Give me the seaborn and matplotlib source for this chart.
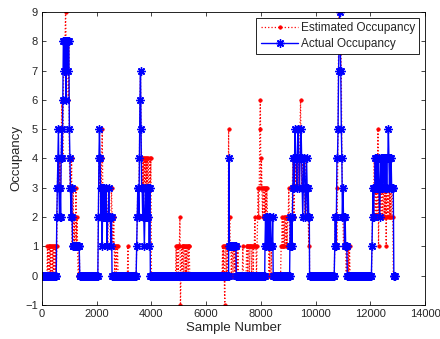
import numpy as np
import pandas as pd
import matplotlib
matplotlib.use("Agg")
import matplotlib.pyplot as plt
import seaborn as sns

STEP = 20  # sample spacing of the plotted points

# actual occupancy: segment edges (sample numbers) and the levels seen in each segment
act_edges = [0, 540, 620, 700, 780, 1000, 1080, 1120, 1380, 2060, 2160, 2300, 2560,
             3460, 3560, 3660, 3960, 6830, 6870, 7100, 8150, 8450, 9060, 9150, 9780,
             10700, 10800, 11000, 11160, 12060, 12160, 12840, 12920]
act_levels = [
    (0,), (2, 3, 4, 5), (3, 2), (4, 5, 4, 6),
    (8, 8, 7, 8, 8, 6, 8, 8, 7, 8, 8), (5, 4, 3, 2), (3, 2), (1,), (0,),
    (2, 4, 5, 4, 3), (2, 3, 1, 3, 2, 2, 3),
    (2, 2, 3, 2, 1, 2, 2, 3, 2, 2, 2, 1, 2), (0,),
    (1, 2, 3, 3, 2), (4, 6, 7, 5, 3),
    (3, 2, 3, 2, 1, 2, 3, 2, 3, 2, 3, 2, 3, 1, 3), (0,),
    (4, 1), (1,), (0,),
    (1, 2, 1, 2, 2, 1, 1, 2, 1, 1, 2, 1, 1, 1, 2), (0,), (1, 2, 1, 2),
    (2, 3, 4, 3, 4, 5, 4, 4, 3, 4, 5, 5, 4, 3, 4, 4, 5, 4, 3, 2, 3, 4, 4, 3, 2, 3, 4, 3, 2, 3, 2, 2),
    (0,), (1, 2, 1, 2, 4), (4, 5, 7, 8, 9, 8, 7, 5, 4, 2), (3, 2, 2, 1, 2, 1, 1, 1), (0,),
    (1, 2, 3, 2, 3),
    (3, 4, 3, 4, 4, 3, 3, 4, 3, 2, 3, 4, 3, 4, 3, 3, 4, 4, 3, 4, 3, 4, 3, 4, 4, 5, 4, 3, 4, 3, 4, 3, 3, 3),
    (3, 0, 0, 0),
]

# estimated occupancy
est_edges = [0, 200, 520, 560, 700, 780, 1000, 1100, 1300, 1400, 2060, 2160, 2300, 2600,
             2760, 2780, 3140, 3160, 3460, 3560, 3660, 4000, 4900, 5400, 6600, 6720, 6900,
             7120, 7500, 7880, 8280, 8760, 9150, 9780, 10700, 10820, 11000, 11260, 12060,
             12840, 12920]
est_levels = [
    (0,), (1, 0, 1, 1, 0, 1, 0, 1, 1, 0, 1, 0, 1, 1, 0, 1), (0, 1),
    (3, 4, 3, 4, 3, 4, 3), (4, 6, 5, 4),
    (6, 8, 8, 8, 9, 8, 7, 8, 8, 6, 8), (4, 3, 3, 2, 4),
    (1, 2, 3, 1, 2, 1, 1, 3, 1, 2), (1, 0, 0, 1, 0), (0,),
    (2, 4, 4, 3, 4), (3, 4, 5, 3, 2, 3, 2),
    (2, 3, 2, 3, 2, 1, 2, 3, 2, 2, 1, 2, 3, 2, 1), (1, 2, 1, 0, 1, 1, 0, 1),
    (1,), (0,), (1,), (0,),
    (1, 2, 3, 2, 3), (4, 6, 7, 5, 4),
    (3, 4, 3, 4, 3, 4, 2, 4, 3, 4, 3, 4, 3, 2, 4, 3, 4), (0,),
    (1, 0, 1, 1, 0, 1, 1, 2, -1, 0, 1, 0, 1, 1, 0, 1, 1, 0, 1, 0, 1, 1, 0, 1, 1), (0,),
    (1, 0, 1, 0, -1, 1), (1, 0, 1, 1, 0, 5, 1, 2, 1),
    (1, 0, 1, 1, 0, 1, 1, 0, 1, 0, 1),
    (0, 0, 1, 0, 0, 0, 0, 0, 0, 0, 0, 1, 0, 0, 0, 0, 0, 0, 1),
    (1, 0, 1, 1, 0, 1, 1, 1, 0, 1, 1, 0, 1, 1, 2, 1, 1, 0, 1),
    (2, 3, 2, 3, 5, 6, 3, 4, 3, 2, 3, 3, 2, 3, 2, 3, 2, 3, 2, 1),
    (1, 0, 1, 0, 0, 1, 0, 0, 0, 0, 0, 0, 0, 0, 0, 0, 0, 0, 0, 0, 0, 0, 0, 1),
    (1, 2, 1, 1, 2, 1, 2, 2, 1, 2, 1, 2, 2, 3, 2, 1, 2, 2, 1, 2),
    (3, 4, 3, 2, 3, 4, 3, 4, 3, 4, 3, 4, 3, 3, 5, 6, 4, 3, 4, 3, 3, 4, 3, 2, 3, 4, 3, 2, 3, 2, 1, 2),
    (0,), (1, 2, 1, 2, 1, 3), (5, 8, 9, 9, 9, 8, 7, 4, 3),
    (2, 1, 1, 2, 1, 1, 0, 1, 1, 0, 1, 0, 1), (0,),
    (1, 2, 3, 2, 4, 3, 2, 3, 3, 2, 3, 5, 1, 3, 2, 3, 2, 3, 3, 2, 3, 3, 2, 3, 2, 3, 1, 3, 2,
     3, 3, 2, 3, 2, 3, 2, 3, 3, 2),
    (0,),
]


def build(edges, levels):
    xs, ys = [], []
    for a, b, lv in zip(edges[:-1], edges[1:], levels):
        idx = np.arange(a, b, STEP)
        xs.extend(idx)
        ys.extend(lv[i % len(lv)] for i in range(len(idx)))
    return pd.DataFrame({"sample": xs, "occ": ys})


est = build(est_edges, est_levels)
act = build(act_edges, act_levels)

sns.set_style("ticks")
plt.rcParams["font.family"] = ["Liberation Sans", "DejaVu Sans"]

fig = plt.figure(figsize=(4.4, 3.39), dpi=100)
ax = fig.add_axes([0.0955, 0.1003, 0.8705, 0.8643])

sns.lineplot(data=est, x="sample", y="occ", ax=ax, estimator=None, sort=False,
             color="red", linestyle=":", linewidth=0.9, marker=".", markersize=5,
             markeredgewidth=0.5, markeredgecolor="red", markerfacecolor="red",
             label="Estimated Occupancy")
# matlab-like asterisk marker
sns.lineplot(data=act, x="sample", y="occ", ax=ax, estimator=None, sort=False,
             color="blue", linestyle="-", linewidth=1.0, marker=(8, 2, 0), markersize=6,
             markeredgewidth=1.0, markeredgecolor="blue", markerfacecolor="blue",
             label="Actual Occupancy")

ax.set_xlim(0, 14000)
ax.set_ylim(-1, 9)
ax.set_xticks(np.arange(0, 14001, 2000))
ax.set_yticks(np.arange(-1, 10, 1))
ax.tick_params(direction="in", top=True, right=True, length=3, width=0.6,
               labelsize=8, pad=3)
for s in ax.spines.values():
    s.set_linewidth(0.6)
    s.set_color("black")
ax.set_xlabel("Sample Number", fontsize=9.5, labelpad=2)
ax.set_ylabel("Occupancy", fontsize=9.5, labelpad=2)

leg = ax.legend(loc="upper right", fontsize=8.5, frameon=True, fancybox=False,
                edgecolor="black", framealpha=1, handlelength=3.2,
                borderaxespad=0.5, borderpad=0.35, labelspacing=0.35, handletextpad=0.2)
leg.get_frame().set_linewidth(0.6)

fig.savefig("out.png", dpi=100)
